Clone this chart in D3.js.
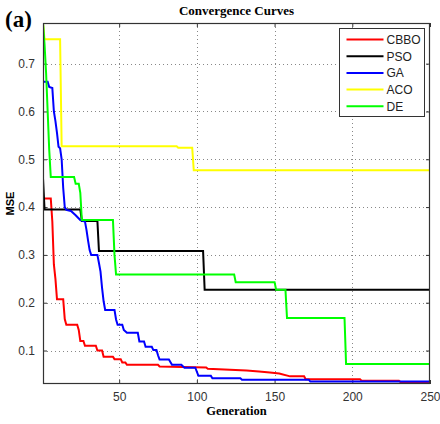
<!DOCTYPE html>
<html>
<head>
<meta charset="utf-8">
<script src="https://cdn.jsdelivr.net/npm/d3@7"></script>
<style>
  body { margin: 0; background: #fff; }
  svg { display: block; }
</style>
</head>
<body>
<div id="chart"></div>
<script>
// Series data: [generation, MSE]
const cbbo = [[1,0.418],[6,0.418],[7,0.37],[8,0.28],[9,0.25],[10,0.207],[14,0.207],[15,0.166],[16,0.154],[23,0.154],[24,0.143],[25,0.12],[27,0.12],[28,0.11],[35,0.11],[36,0.1],[39,0.1],[40,0.087],[46,0.087],[47,0.082],[51,0.082],[52,0.075],[54,0.075],[55,0.07],[75,0.07],[76,0.0665],[106,0.0645],[107,0.062],[132,0.058],[140,0.056],[147,0.054],[153,0.052],[160,0.046],[169,0.046],[170,0.04],[205,0.04],[206,0.037],[230,0.037],[231,0.034],[250,0.034]];
const pso = [[1,0.46],[2,0.395],[25,0.395],[26,0.371],[36,0.371],[37,0.308],[104,0.308],[105,0.227],[250,0.227]];
const ga = [[1,0.662],[4,0.662],[5,0.651],[7,0.649],[8,0.6],[9,0.58],[10,0.555],[11,0.526],[12,0.523],[13,0.5],[14,0.44],[15,0.4],[16,0.394],[19,0.392],[22,0.383],[25,0.373],[28,0.37],[29,0.352],[30,0.33],[31,0.31],[32,0.3],[36,0.3],[37,0.283],[38,0.265],[39,0.231],[40,0.203],[41,0.185],[47,0.185],[48,0.165],[49,0.154],[52,0.154],[53,0.143],[55,0.137],[62,0.137],[63,0.119],[66,0.119],[67,0.108],[71,0.108],[72,0.101],[74,0.101],[75,0.09],[76,0.081],[82,0.081],[84,0.07],[90,0.07],[92,0.064],[99,0.064],[101,0.047],[109,0.047],[110,0.042],[128,0.042],[129,0.039],[172,0.039],[173,0.035],[250,0.035]];
const aco = [[1,0.785],[2,0.751],[12,0.751],[13,0.527],[87,0.527],[88,0.524],[97,0.524],[98,0.477],[250,0.477]];
const de = [[1,0.785],[2,0.74],[3,0.68],[4,0.6],[5,0.52],[6,0.463],[21,0.463],[22,0.449],[24,0.449],[25,0.43],[26,0.373],[46,0.373],[47,0.3],[48,0.259],[124,0.259],[125,0.243],[150,0.243],[151,0.227],[157,0.227],[158,0.168],[195,0.168],[196,0.072],[250,0.072]];

const seriesNames = ["CBBO", "PSO", "GA", "ACO", "DE"];
const seriesData = [cbbo, pso, ga, aco, de];
const seriesColors = ["#ff0000", "#000000", "#0000ff", "#ffff00", "#00ff00"];

const xTicks = [50, 100, 150, 200, 250];
const yTicks = [0.1, 0.2, 0.3, 0.4, 0.5, 0.6, 0.7];

const width = 440, height = 424;
const M = {top: 23, right: 10, bottom: 40, left: 43};

const svg = d3.select("#chart").append("svg")
  .attr("width", width)
  .attr("height", height);

const x = d3.scaleLinear().domain([1, 250]).range([M.left, width - M.right]);
const y = d3.scaleLinear().domain([0.03, 0.785]).range([height - M.bottom, M.top]);

svg.append("clipPath").attr("id", "plot-clip")
  .append("rect")
  .attr("x", M.left).attr("y", M.top)
  .attr("width", width - M.left - M.right)
  .attr("height", height - M.top - M.bottom);

// Grid
const grid = svg.append("g").attr("stroke", "#888").attr("stroke-width", 1)
  .attr("stroke-dasharray", "1,3");
grid.selectAll(".gx").data(xTicks.slice(0, -1)).join("line")
  .attr("x1", d => Math.round(x(d)) + 0.5).attr("x2", d => Math.round(x(d)) + 0.5)
  .attr("y1", M.top).attr("y2", height - M.bottom);
grid.selectAll(".gy").data(yTicks).join("line")
  .attr("y1", d => Math.round(y(d)) + 0.5).attr("y2", d => Math.round(y(d)) + 0.5)
  .attr("x1", M.left).attr("x2", width - M.right);

// Axes
const fontTick = "'Liberation Sans', Arial, sans-serif";
const xAxis = svg.append("g")
  .attr("transform", `translate(0,${height - M.bottom})`)
  .call(d3.axisBottom(x).tickValues(xTicks).tickSizeInner(-4).tickSizeOuter(0).tickPadding(8));
const yAxis = svg.append("g")
  .attr("transform", `translate(${M.left},0)`)
  .call(d3.axisLeft(y).tickValues(yTicks).tickSizeInner(-4).tickSizeOuter(0).tickPadding(8));
const xTop = svg.append("g")
  .attr("transform", `translate(0,${M.top})`)
  .call(d3.axisTop(x).tickValues(xTicks).tickSizeInner(-4).tickSizeOuter(0).tickFormat(""));
const yRight = svg.append("g")
  .attr("transform", `translate(${width - M.right},0)`)
  .call(d3.axisRight(y).tickValues(yTicks).tickSizeInner(-4).tickSizeOuter(0).tickFormat(""));

[xAxis, yAxis, xTop, yRight].forEach(a => {
  a.select(".domain").remove();
  a.selectAll("line").attr("stroke", "#333");
  a.selectAll("text").attr("font-family", fontTick).attr("font-size", "12px").attr("fill", "#333");
});

// Lines
const line = d3.line().x(d => x(d[0])).y(d => y(d[1]));
const lines = svg.append("g").attr("clip-path", "url(#plot-clip)");
seriesData.forEach((data, i) => {
  lines.append("path")
    .datum(data)
    .attr("fill", "none")
    .attr("stroke", seriesColors[i])
    .attr("stroke-width", 2)
    .attr("stroke-linejoin", "miter")
    .attr("d", line);
});

// Frame
svg.append("rect")
  .attr("x", M.left + 0.5).attr("y", M.top + 0.5)
  .attr("width", width - M.left - M.right - 1)
  .attr("height", height - M.top - M.bottom - 1)
  .attr("fill", "none").attr("stroke", "#333").attr("stroke-width", 1.2);

// Legend
const lg = svg.append("g").attr("transform", "translate(339.5,28.5)");
lg.append("rect").attr("width", 85).attr("height", 88)
  .attr("fill", "#fff").attr("stroke", "#333").attr("stroke-width", 1);
seriesNames.forEach((name, i) => {
  const yy = 11 + i * 16.7;
  lg.append("line").attr("x1", 7).attr("x2", 44).attr("y1", yy).attr("y2", yy)
    .attr("stroke", seriesColors[i]).attr("stroke-width", 2);
  lg.append("text").attr("x", 47).attr("y", yy + 4.5)
    .attr("font-family", fontTick).attr("font-size", "12px").attr("fill", "#222")
    .text(name);
});

// Titles
svg.append("text")
  .attr("x", (M.left + width - M.right) / 2).attr("y", 15)
  .attr("text-anchor", "middle")
  .attr("font-family", "'Liberation Serif', 'Times New Roman', serif")
  .attr("font-weight", "bold").attr("font-size", "13px")
  .text("Convergence Curves");

svg.append("text")
  .attr("x", 5).attr("y", 27)
  .attr("font-family", "'Liberation Serif', 'Times New Roman', serif")
  .attr("font-weight", "bold").attr("font-size", "23px")
  .text("(a)");

svg.append("text")
  .attr("x", (M.left + width - M.right) / 2).attr("y", 415)
  .attr("text-anchor", "middle")
  .attr("font-family", "'Liberation Serif', 'Times New Roman', serif")
  .attr("font-weight", "bold").attr("font-size", "12.5px")
  .text("Generation");

svg.append("text")
  .attr("transform", `translate(14,${(M.top + height - M.bottom) / 2}) rotate(-90)`)
  .attr("text-anchor", "middle")
  .attr("font-family", fontTick)
  .attr("font-weight", "bold").attr("font-size", "11px")
  .text("MSE");
</script>
</body>
</html>
